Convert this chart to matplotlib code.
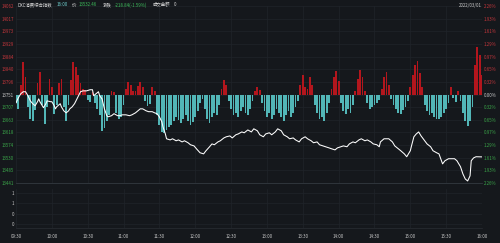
import matplotlib
matplotlib.use("Agg")
import matplotlib.pyplot as plt
import numpy as np

# ---------------- data ----------------
prev_close = 13751.30
close_price = 13532.46
change = -218.84
change_pct = -1.59
title_name = "DXC消费综合指数"
date_text = "2022/03/01"

time_labels = ["09:30", "10:00", "10:30", "11:00", "11:30", "12:00", "12:30",
               "13:00", "13:30", "14:00", "14:30", "15:00", "15:30", "16:00"]

price_minutes = [0, 2, 4, 6, 8, 10, 12, 14, 16, 18, 19, 20, 22, 23, 25, 26, 29, 30, 32, 33,
                 34, 37, 38, 40, 42, 44, 45, 47, 49, 51, 54, 56, 59, 62, 64, 65, 67, 69, 70, 72,
                 74, 76, 77, 80, 82, 85, 87, 89, 92, 95, 97, 100, 102, 104, 106, 109, 111, 114, 116, 118,
                 120, 122, 123, 125, 126, 129, 131, 134, 136, 139, 141, 144, 146, 149, 151, 154, 157, 159, 162, 164,
                 166, 169, 171, 174, 176, 179, 181, 184, 186, 189, 191, 194, 197, 199, 202, 204, 207, 209, 212, 214,
                 217, 219, 222, 224, 227, 229, 232, 234, 237, 239, 242, 244, 247, 249, 252, 254, 257, 259, 262, 264,
                 267, 269, 272, 274, 277, 279, 282, 284, 287, 289, 292, 294, 297, 299, 302, 304, 305, 308, 310, 312,
                 315, 317, 320, 322, 325, 327, 330, 331, 333, 335, 337, 339, 342, 344, 347, 349, 352, 354, 357, 359,
                 362, 364, 367, 369, 372, 374, 376, 378, 380, 381, 383, 385, 390]
price_values = [13722, 13740, 13754, 13761, 13761, 13747, 13729, 13719, 13712, 13726, 13736, 13726, 13712, 13705, 13719, 13729, 13726, 13726, 13712, 13701,
                13708, 13719, 13708, 13694, 13687, 13694, 13701, 13708, 13719, 13736, 13761, 13764, 13764, 13768, 13768, 13747, 13754, 13761, 13747, 13736,
                13701, 13677, 13673, 13677, 13684, 13677, 13677, 13680, 13680, 13677, 13680, 13687, 13694, 13701, 13701, 13694, 13691, 13691, 13687, 13684,
                13673, 13656, 13638, 13613, 13596, 13592, 13596, 13589, 13592, 13585, 13589, 13582, 13575, 13571, 13561, 13547, 13543, 13554, 13568, 13578,
                13575, 13585, 13589, 13599, 13603, 13606, 13599, 13610, 13613, 13620, 13617, 13627, 13620, 13631, 13624, 13610, 13603, 13613, 13617, 13610,
                13620, 13631, 13624, 13610, 13603, 13596, 13599, 13592, 13585, 13596, 13603, 13596, 13589, 13582, 13585, 13575, 13571, 13568, 13564, 13561,
                13557, 13564, 13568, 13571, 13568, 13578, 13585, 13582, 13592, 13596, 13589, 13592, 13585, 13578, 13575, 13568, 13585, 13596, 13596, 13596,
                13585, 13571, 13561, 13554, 13543, 13533, 13554, 13571, 13603, 13613, 13620, 13606, 13589, 13578, 13568, 13554, 13547, 13543, 13508, 13519,
                13526, 13526, 13526, 13519, 13498, 13473, 13455, 13448, 13466, 13519, 13529, 13533, 13532.46]

bar_minutes = list(range(0, 391, 2))
bar_values = [-8, -14, 10, 33, 18, -12, -24, -26, -15, 12,
              23, -10, -29, -12, 16, 8, -19, -10, 12, 16,
              -12, -26, -10, 15, 33, 28, 20, 12, 6, 5,
              -5, -7, 3, -8, -14, -20, -36, -33, -26, -20,
              4, 3, -18, -24, -22, -10, 6, 13, 10, 4,
              4, 9, 13, 8, -6, -11, -9, 8, 4, -20,
              -30, -37, -38, -35, -32, -30, -26, -22, -25, -28,
              -24, -20, -26, -30, -27, -22, -16, -8, -4, -14,
              -24, -28, -22, -18, -20, -10, 6, 15, 10, -6,
              -14, -20, -18, -22, -16, -12, -18, -20, -14, -6,
              4, 8, 5, -8, -16, -22, -18, -24, -20, -14,
              -18, -22, -26, -20, -16, -22, -18, -12, -6, 10,
              20, 8, 6, 18, 10, -10, -18, -24, -22, -26,
              -18, -8, 6, 18, 24, 14, -8, -16, -19, -14,
              -18, -10, 4, 16, 25, 18, 4, -8, -14, -12,
              -10, -8, -5, 6, 18, 23, 10, -4, -10, -14,
              -18, -19, -15, -12, -6, 8, 20, 30, 34, 22,
              8, -10, -16, -20, -18, -22, -24, -24, -22, -18,
              -14, -8, 8, -3, -7, 4, -6, -18, -26, -31,
              -26, -12, 30, 48, 40, 20]

volume_ticks = [1, 2 / 3, 1 / 3, 0]
volume_tick_labels = ["1", "1", "0", "0"]

# ---------------- style ----------------
W, H = 500, 243
bg = "#15181c"
grid_c = "#20242a"
red_c = "#c4363b"
green_c = "#3aa549"
neutral_c = "#c8c8c8"
bar_red = "#b3161d"
bar_teal = "#52b6b7"

plt.rcParams["font.family"] = ["Noto Sans CJK SC", "DejaVu Sans"]

fig = plt.figure(figsize=(W / 100, H / 100), dpi=100, facecolor=bg)

def rect(x0, y0, x1, y1):
    return [x0 / W, 1 - y1 / H, (x1 - x0) / W, (y1 - y0) / H]

x_left, x_right = 16, 482
ax = fig.add_axes(rect(x_left, 6, x_right, 183))
ax.set_facecolor(bg)

ks = list(range(-7, 8))
step = 0.003225
tick_prices = [prev_close * (1 + k * step) for k in ks]
ax.set_xlim(0, 390)
ax.set_ylim(tick_prices[0], tick_prices[-1])
ax.set_yticks(tick_prices)
ax.set_yticklabels([f"{p:.0f}" for p in tick_prices], fontsize=3.2)
for lbl, k in zip(ax.get_yticklabels(), ks):
    lbl.set_color(red_c if k > 0 else (green_c if k < 0 else neutral_c))
ax.tick_params(axis="y", length=0, pad=1.5)
ax.set_xticks(range(0, 391, 30))
ax.tick_params(axis="x", length=0, labelbottom=False)
ax.grid(True, color=grid_c, linewidth=0.5)
for s in ["top", "left", "right"]:
    ax.spines[s].set_visible(False)
ax.spines["bottom"].set_color("#343a41")
ax.spines["bottom"].set_linewidth(0.6)

# right percent axis
axr = ax.twinx()
axr.set_ylim(ax.get_ylim())
axr.set_yticks(tick_prices)
axr.set_yticklabels([f"{abs(k) * step * 100:.2f}%" for k in ks], fontsize=3.2)
for lbl, k in zip(axr.get_yticklabels(), ks):
    lbl.set_color(red_c if k > 0 else (green_c if k < 0 else neutral_c))
axr.tick_params(axis="y", length=0, pad=1.5)
for s in axr.spines.values():
    s.set_visible(False)

# bars
axb = ax.twinx()
axb.set_ylim(-87.5, 89.5)
axb.set_yticks([])
for s in axb.spines.values():
    s.set_visible(False)
bcolors = [bar_red if v > 0 else bar_teal for v in bar_values]
axb.bar(bar_minutes, bar_values, width=1.5, color=bcolors, linewidth=0, zorder=2)

# price line on top
axp = ax.twinx()
axp.set_ylim(ax.get_ylim())
axp.set_yticks([])
for s in axp.spines.values():
    s.set_visible(False)
axp.plot(price_minutes, price_values, color="white", linewidth=0.75, zorder=3)

# volume pane
axv = fig.add_axes(rect(x_left, 189, x_right, 228))
axv.set_facecolor(bg)
axv.set_xlim(0, 390)
axv.set_ylim(-4 / 31, 1 + 4 / 31)
axv.set_yticks(volume_ticks)
axv.set_yticklabels(volume_tick_labels, fontsize=3.2, color=neutral_c)
axv.tick_params(axis="y", length=0, pad=1.5)
axv.set_xticks(range(0, 391, 30))
axv.set_xticklabels(time_labels, fontsize=3.2, color=neutral_c)
axv.tick_params(axis="x", length=0, pad=4.5)
axv.grid(True, color=grid_c, linewidth=0.5)
for s in ["top", "left", "right"]:
    axv.spines[s].set_visible(False)
axv.spines["bottom"].set_color("#2a2e34")
axv.spines["bottom"].set_linewidth(0.5)

# header, laid out left to right
fy = 1 - 5 / H
fs = 3.2
parts = [
    (17, title_name, "#d8d8d8"),
    (57, "16:00", "#6fd0d0"),
    (72, "价", "#d8d8d8"),
    (79, f"{close_price:.2f}", "#3dbb5b"),
    (103, "涨跌", "#d8d8d8"),
    (115, f"{change:.2f}({change_pct:.2f}%)", "#3dbb5b"),
    (153, "成交金额", "#d8d8d8"),
    (174, "0", "#d8d8d8"),
]
renderer = fig.canvas.get_renderer()
cursor = 0
for px, txt, col in parts:
    x0 = max(px, cursor + 2.5)
    t = fig.text(x0 / W, fy, txt, fontsize=fs, color=col, ha="left", va="center")
    bb = t.get_window_extent(renderer=renderer)
    cursor = bb.x1
fig.text(482 / W, fy, date_text, fontsize=fs, color="#c8c8c8", ha="right", va="center")

fig.savefig("out.png", dpi=100, facecolor=bg)
